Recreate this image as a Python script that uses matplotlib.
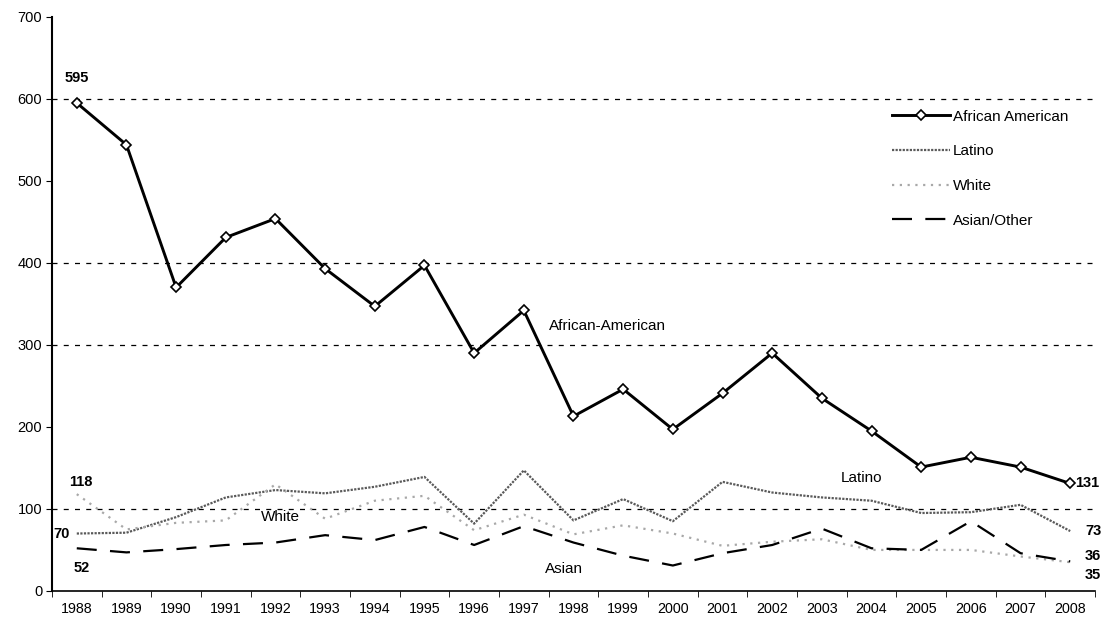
import numpy as np
import matplotlib
matplotlib.use("Agg")
import matplotlib.pyplot as plt

# =============================
# DATOS
# =============================
years = [str(y) for y in range(1988, 2009)]

african_american = [595, 544, 370, 431, 454, 393, 347, 397, 290, 342, 213,
                    246, 197, 241, 290, 235, 195, 151, 163, 151, 131]
latino = [70, 71, 90, 114, 123, 119, 127, 139, 82, 147, 86,
          112, 85, 133, 120, 114, 110, 95, 96, 105, 73]
white = [118, 75, 83, 86, 130, 88, 110, 116, 74, 93, 69,
         80, 70, 55, 60, 63, 50, 50, 50, 42, 35]
asian_other = [52, 47, 51, 56, 59, 68, 62, 78, 56, 79, 59,
               43, 31, 46, 56, 76, 52, 50, 85, 46, 36]

grid_levels = [100, 300, 400, 600]

plt.rcParams["font.family"] = ["Liberation Sans", "DejaVu Sans"]

# =============================
# GRÁFICO
# =============================
fig = plt.figure(figsize=(11.05, 6.24), dpi=100)
ax = fig.add_axes([0.047, 0.053, 0.944, 0.92])

x = np.arange(len(years))

for lvl in grid_levels:
    ax.axhline(lvl, color="black", linestyle=(0, (4, 5)), linewidth=0.9, zorder=1)

ax.plot(x, african_american, color="black", linewidth=2.1, marker="D",
        markersize=5, markerfacecolor="white", markeredgecolor="black",
        markeredgewidth=1.2, label="African American", zorder=4)
ax.plot(x, latino, color="#5a5a5a", linestyle=(0, (1, 0.6)), linewidth=1.6,
        label="Latino", zorder=3)
ax.plot(x, white, color="#a8a8a8", linestyle=(0, (1, 2.5)), linewidth=1.6,
        label="White", zorder=3)
ax.plot(x, asian_other, color="black", linestyle=(0, (9, 6)), linewidth=1.6,
        label="Asian/Other", zorder=3)

# etiquetas de valores
lbl = dict(fontsize=10.5, fontweight="bold")
ax.text(0, 626, "595", ha="center", va="center", **lbl)
ax.text(0.08, 133, "118", ha="center", va="center", **lbl)
ax.text(-0.3, 70, "70", ha="center", va="center", **lbl)
ax.text(0.1, 28, "52", ha="center", va="center", **lbl)
ax.text(20.1, 131, "131", ha="left", va="center", **lbl)
ax.text(20.3, 73, "73", ha="left", va="center", **lbl)
ax.text(20.3, 43, "36", ha="left", va="center", **lbl)
ax.text(20.3, 20, "35", ha="left", va="center", **lbl)

ax.text(9.5, 323, "African-American", ha="left", va="center", fontsize=11)
ax.text(15.8, 138, "Latino", ha="center", va="center", fontsize=11)
ax.text(3.7, 90, "White", ha="left", va="center", fontsize=11)
ax.text(9.8, 27, "Asian", ha="center", va="center", fontsize=11)

ax.set_xlim(-0.5, len(years) - 0.5)
ax.set_ylim(0, 700)
ax.set_yticks(range(0, 701, 100))
ax.set_xticks(x)
ax.set_xticklabels(years)
ax.set_xticks(np.arange(-0.5, len(years), 1), minor=True)
ax.tick_params(axis="x", which="major", length=0, labelsize=10.3, pad=8)
ax.tick_params(axis="x", which="minor", length=4, direction="out")
ax.tick_params(axis="y", length=4, labelsize=10.5, pad=3)

for side in ["top", "right"]:
    ax.spines[side].set_visible(False)
ax.spines["left"].set_linewidth(1.5)
ax.spines["bottom"].set_linewidth(1.2)

ax.legend(loc="upper left", bbox_to_anchor=(0.792, 0.862), frameon=False,
          fontsize=11, handlelength=3.8, labelspacing=1.35,
          handletextpad=0.2)

fig.savefig("out.png", dpi=100)
